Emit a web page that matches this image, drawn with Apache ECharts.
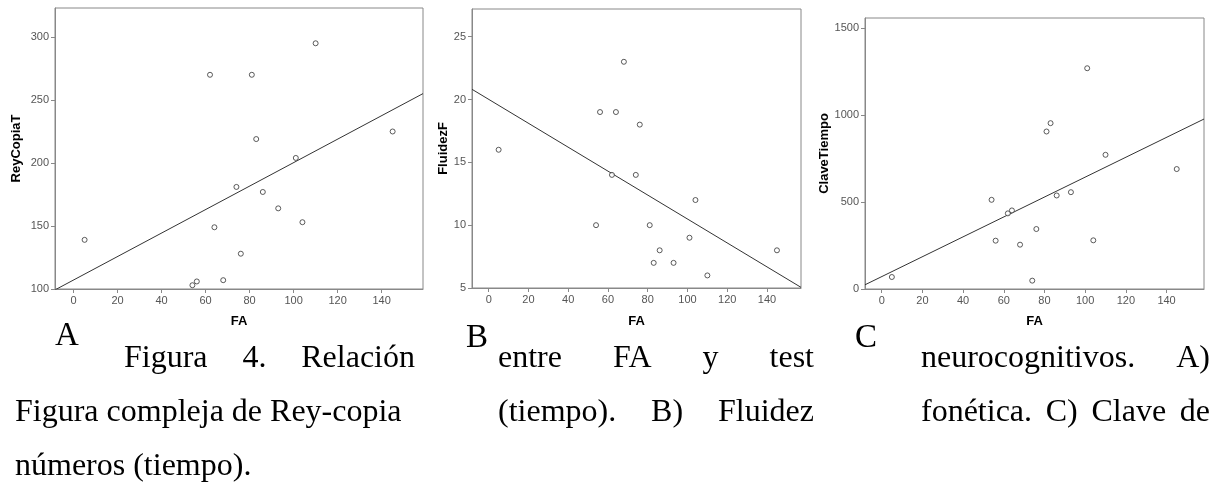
<!DOCTYPE html>
<html>
<head>
<meta charset="utf-8">
<script src="https://cdn.jsdelivr.net/npm/echarts@6/dist/echarts.min.js"></script>
<style>
  html, body { margin: 0; padding: 0; background: #fff; }
  #chart { width: 1220px; height: 490px; }
</style>
</head>
<body>
<div id="chart"></div>
<script>
// FA values (x) shared by the three panels
const fa = [5, 54, 56, 62, 64, 68, 74, 76, 81, 83, 86, 93, 101, 104, 110, 145];
// y values, same order as fa
const reyCopiaT = [139, 103, 106, 270, 149, 107, 181, 128, 270, 219, 177, 164, 204, 153, 295, 225];
const fluidezF = [16, 10, 19, 14, 19, 23, 14, 18, 10, 7, 8, 7, 9, 12, 6, 8];
const claveTiempo = [69, 513, 278, 435, 452, 255, 48, 345, 906, 954, 538, 557, 1270, 280, 772, 690];

// tick labels
const faTicks = [0, 20, 40, 60, 80, 100, 120, 140];
const reyTicks = [100, 150, 200, 250, 300];
const fluidezTicks = [5, 10, 15, 20, 25];
const claveTicks = [0, 500, 1000, 1500];

// panel layout (SPSS style frames)
const panels = [
  { name: "ReyCopiaT", ys: reyCopiaT, yTicks: reyTicks, left: 55, top: 8, width: 368, height: 281,
    xMin: -8.45, xMax: 158.8, yMin: 100, yMax: 323, nameGap: 32, xNameGap: 26 },
  { name: "FluidezF", ys: fluidezF, yTicks: fluidezTicks, left: 472, top: 9, width: 329, height: 279,
    xMin: -8.4, xMax: 157.1, yMin: 5, yMax: 27.2, nameGap: 22, xNameGap: 27 },
  { name: "ClaveTiempo", ys: claveTiempo, yTicks: claveTicks, left: 865, top: 18, width: 339, height: 271,
    xMin: -8.2, xMax: 158.4, yMin: 0, yMax: 1559, nameGap: 31, xNameGap: 26 },
];

// least squares fit line
function fit(xs, ys) {
  const n = xs.length;
  const mx = xs.reduce((a, b) => a + b, 0) / n;
  const my = ys.reduce((a, b) => a + b, 0) / n;
  let sxy = 0, sxx = 0;
  for (let i = 0; i < n; i++) {
    sxy += (xs[i] - mx) * (ys[i] - my);
    sxx += (xs[i] - mx) * (xs[i] - mx);
  }
  const b = sxy / sxx;
  return { b: b, a: my - b * mx };
}

const frameColor = "#888888";
const labelStyle = { color: "#555555", fontSize: 11, fontFamily: "Liberation Sans, Arial",
  formatter: function (v) { return String(v); } };
const nameStyle = { color: "#000000", fontSize: 13, fontWeight: "bold", fontFamily: "Liberation Sans, Arial" };

const grids = [], xAxes = [], yAxes = [], series = [];
panels.forEach(function (p, i) {
  grids.push({
    left: p.left, top: p.top, width: p.width, height: p.height,
    show: true, borderColor: frameColor, borderWidth: 1, backgroundColor: "transparent",
    outerBoundsMode: "none",
  });
  xAxes.push({
    type: "value", gridIndex: i, min: p.xMin, max: p.xMax,
    name: "FA", nameLocation: "middle", nameGap: p.xNameGap, nameTextStyle: nameStyle,
    axisLine: { show: true, onZero: false, lineStyle: { color: frameColor } },
    axisTick: { show: true, length: 4, customValues: faTicks, lineStyle: { color: frameColor } },
    axisLabel: Object.assign({ margin: 6, customValues: faTicks }, labelStyle),
    splitLine: { show: false },
  });
  yAxes.push({
    type: "value", gridIndex: i, min: p.yMin, max: p.yMax,
    name: p.name, nameLocation: "middle", nameGap: p.nameGap, nameTextStyle: nameStyle,
    axisLine: { show: true, onZero: false, lineStyle: { color: frameColor } },
    axisTick: { show: true, length: 4, customValues: p.yTicks, lineStyle: { color: frameColor } },
    axisLabel: Object.assign({ margin: 6, customValues: p.yTicks }, labelStyle),
    splitLine: { show: false },
  });
  const f = fit(fa, p.ys);
  series.push({
    type: "line", xAxisIndex: i, yAxisIndex: i, symbol: "none", clip: true, silent: true,
    lineStyle: { color: "#333333", width: 1 },
    data: [[p.xMin, f.a + f.b * p.xMin], [p.xMax, f.a + f.b * p.xMax]],
    z: 2,
  });
  series.push({
    type: "scatter", xAxisIndex: i, yAxisIndex: i, symbol: "circle", symbolSize: 5,
    itemStyle: { color: "#ffffff", borderColor: "#333333", borderWidth: 1 },
    data: fa.map(function (x, k) { return [x, p.ys[k]]; }),
    z: 3,
  });
});

// caption: justified lines [words, left, right (null = not justified), baseline]
const serif = "Liberation Serif, Times New Roman, serif";
const captionFont = "32px " + serif;
const captionLines = [
  [["Figura", "4.", "Relación"], 124, 415, 370],
  [["entre", "FA", "y", "test"], 498, 814, 370],
  [["neurocognitivos.", "A)"], 921, 1210, 370],
  [["Figura compleja de Rey-copia"], 15, null, 424],
  [["(tiempo).", "B)", "Fluidez"], 498, 814, 424],
  [["fonética.", "C)", "Clave", "de"], 921, 1210, 424],
  [["números (tiempo)."], 15, null, 478],
];
const panelLetters = [["A", 55, 347], ["B", 466, 349], ["C", 855, 349]];

const ctx = document.createElement("canvas").getContext("2d");
ctx.font = captionFont;

const graphics = [];
function addText(text, x, baseline, font) {
  graphics.push({
    type: "text", x: x, y: baseline - 11, silent: true,
    style: { text: text, font: font, fill: "#000", align: "left", verticalAlign: "middle" },
  });
}
captionLines.forEach(function (ln) {
  const words = ln[0], x0 = ln[1], x1 = ln[2], base = ln[3];
  if (x1 === null || words.length < 2) {
    addText(words.join(" "), x0, base, captionFont);
    return;
  }
  const widths = words.map(function (w) { return ctx.measureText(w).width; });
  const total = widths.reduce((a, b) => a + b, 0);
  const gap = (x1 - x0 - total) / (words.length - 1);
  let x = x0;
  words.forEach(function (w, k) {
    addText(w, x, base, captionFont);
    x += widths[k] + gap;
  });
});
panelLetters.forEach(function (l) {
  addText(l[0], l[1], l[2], "33px " + serif);
});

const chart = echarts.init(document.getElementById("chart"));
chart.setOption({
  animation: false,
  backgroundColor: "#ffffff",
  grid: grids,
  xAxis: xAxes,
  yAxis: yAxes,
  series: series,
  graphic: graphics,
});
</script>
</body>
</html>
